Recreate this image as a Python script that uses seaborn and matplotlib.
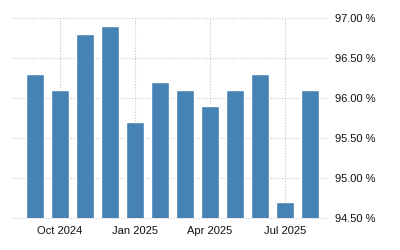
import matplotlib
matplotlib.use("Agg")
import matplotlib.pyplot as plt
import seaborn as sns
import pandas as pd

months = ["Sep 2024", "Oct 2024", "Nov 2024", "Dec 2024", "Jan 2025", "Feb 2025",
          "Mar 2025", "Apr 2025", "May 2025", "Jun 2025", "Jul 2025", "Aug 2025"]
values = [96.3, 96.1, 96.8, 96.9, 95.7, 96.2, 96.1, 95.9, 96.1, 96.3, 94.7, 96.1]
tick_labels = ["Oct 2024", "Jan 2025", "Apr 2025", "Jul 2025"]
y_ticks = [94.5, 95.0, 95.5, 96.0, 96.5, 97.0]

sns.set_style("white")
plt.rcParams["font.family"] = ["Liberation Sans", "DejaVu Sans"]

df = pd.DataFrame({"month": months, "value": values})

fig = plt.figure(figsize=(4, 2.5), dpi=100)
ax = fig.add_axes([0.03, 0.128, 0.79, 0.802])

sns.barplot(data=df, x="month", y="value", color="#4682B4", saturation=1,
            width=0.72, ax=ax, zorder=3)

ax.set_ylim(94.5, 97.0)
ax.set_xlim(-0.92, 11.72)
ax.set_yticks(y_ticks)
ax.set_yticklabels([f"{v:.2f} %" for v in y_ticks])
pos = [months.index(m) for m in tick_labels]
ax.set_xticks(pos)
ax.set_xticklabels(tick_labels)
ax.yaxis.tick_right()
ax.tick_params(axis="y", length=0, pad=5, labelsize=8, labelcolor="#111111")
ax.tick_params(axis="x", length=0, pad=6, labelsize=8, labelcolor="#111111")
ax.set_xlabel("")
ax.set_ylabel("")
for s in ax.spines.values():
    s.set_visible(False)
ax.grid(True, axis="both", color="#c8c8c8", linestyle=(0, (1, 1.5)), linewidth=0.8, zorder=0)
ax.set_axisbelow(True)
ax.set_clip_on(False)
for line in ax.get_ygridlines() + ax.get_xgridlines():
    line.set_clip_on(False)

fig.savefig("out.png", dpi=100)
